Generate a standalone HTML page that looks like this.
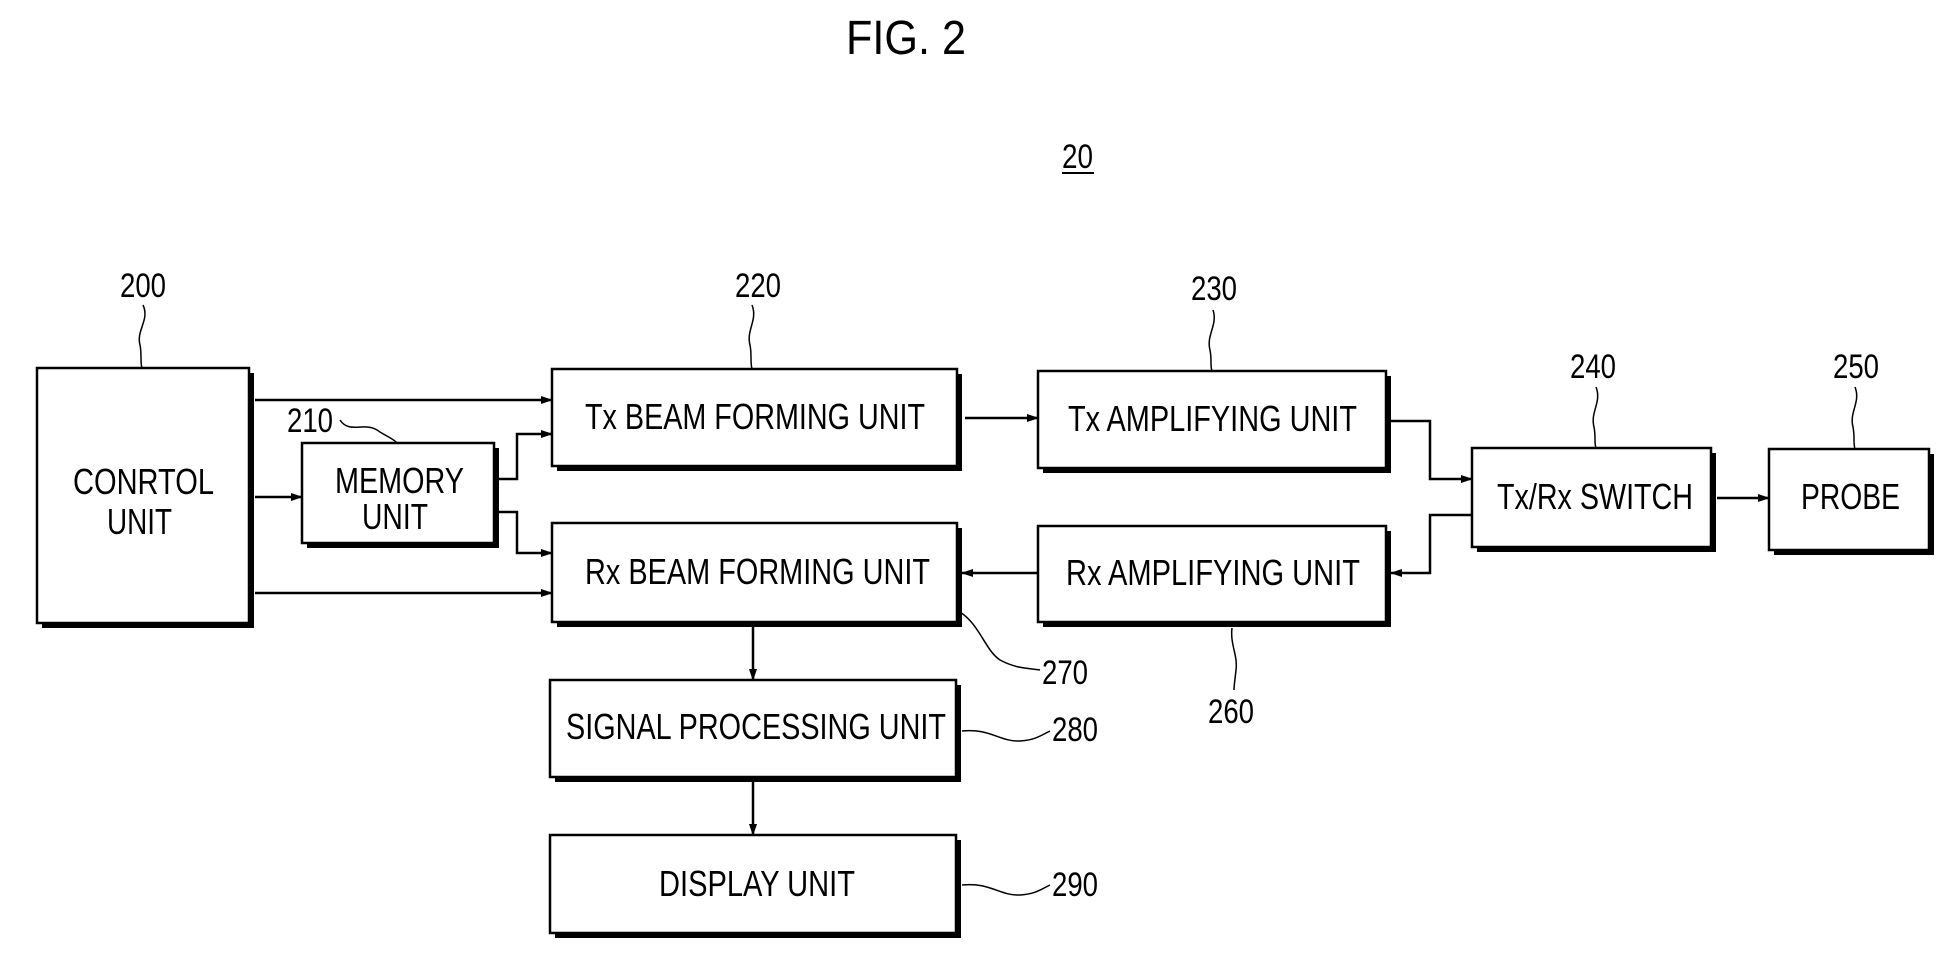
<!DOCTYPE html>
<html><head><meta charset="utf-8"><style>
html,body{margin:0;padding:0;background:#fff;}
svg{display:block;}
text{font-family:"Liberation Sans",sans-serif;fill:#000;}
</style></head><body>
<svg width="1949" height="957" viewBox="0 0 1949 957" xmlns="http://www.w3.org/2000/svg">
<defs>
<marker id="a" markerWidth="12" markerHeight="10" refX="11" refY="5" orient="auto" markerUnits="userSpaceOnUse">
<path d="M0,1 L12,5 L0,9 Z" fill="#000"/></marker>
</defs>
<text x="846" y="54" font-size="48" textLength="120" lengthAdjust="spacingAndGlyphs">FIG. 2</text>
<text x="1062" y="168" font-size="34" textLength="31" lengthAdjust="spacingAndGlyphs">20</text>
<line x1="1062" y1="173" x2="1094" y2="173" stroke="#000" stroke-width="2"/>

<g stroke="#000" stroke-width="2.5">
<g fill="#000" stroke="none">
<rect x="42" y="373" width="212" height="255"/>
<rect x="307" y="448" width="192" height="100"/>
<rect x="557" y="374" width="405" height="97"/>
<rect x="557" y="528" width="405" height="99"/>
<rect x="1043" y="376" width="348" height="97"/>
<rect x="1043" y="531" width="348" height="96"/>
<rect x="1477" y="453" width="239" height="99"/>
<rect x="1774" y="454" width="160" height="101"/>
<rect x="555" y="685" width="406" height="97"/>
<rect x="555" y="840" width="406" height="98"/>
</g>
<g fill="#fff">
<rect x="37" y="368" width="212" height="255"/>
<rect x="302" y="443" width="192" height="100"/>
<rect x="552" y="369" width="405" height="97"/>
<rect x="552" y="523" width="405" height="99"/>
<rect x="1038" y="371" width="348" height="97"/>
<rect x="1038" y="526" width="348" height="96"/>
<rect x="1472" y="448" width="239" height="99"/>
<rect x="1769" y="449" width="160" height="101"/>
<rect x="550" y="680" width="406" height="97"/>
<rect x="550" y="835" width="406" height="98"/>
</g>
<g fill="none" marker-end="url(#a)">
<polyline points="255,400 552,400"/>
<polyline points="255,497 302,497"/>
<polyline points="255,593 552,593"/>
<polyline points="499,479 517,479 517,434 552,434"/>
<polyline points="499,512 517,512 517,553 552,553"/>
<polyline points="965,418 1038,418"/>
<polyline points="1391,421 1430,421 1430,479 1472,479"/>
<polyline points="1472,515 1430,515 1430,573 1391,573"/>
<polyline points="1038,573 962,573"/>
<polyline points="1717,498 1769,498"/>
<polyline points="753,627 753,680"/>
<polyline points="753,782 753,835"/>
</g>
<g fill="none" stroke-width="1.5">
<path d="M143,305 C150,320 136,330 140,345 C142,355 140,362 142,368"/>
<path d="M752,305 C758,320 746,330 750,345 C752,355 750,362 752,369"/>
<path d="M1213,310 C1218,325 1206,335 1210,350 C1212,360 1210,366 1212,371"/>
<path d="M1596,387 C1602,402 1590,412 1594,427 C1596,437 1594,443 1596,448"/>
<path d="M1855,387 C1861,402 1849,412 1853,427 C1855,437 1853,443 1855,449"/>
<path d="M340,420 C350,435 365,420 380,432 C390,438 395,440 397,443"/>
<path d="M960,612 C980,625 985,650 1000,660 C1015,668 1025,668 1040,670"/>
<path d="M1232,628 C1230,645 1238,655 1236,670 C1235,680 1234,685 1234,690"/>
<path d="M962,731 C990,728 1000,742 1020,741 C1035,740 1040,736 1050,731"/>
<path d="M962,885 C990,882 1000,896 1020,895 C1035,894 1040,890 1050,885"/>
</g>
</g>

<g font-size="36">
<text x="73" y="494" textLength="141" lengthAdjust="spacingAndGlyphs">CONRTOL</text>
<text x="107" y="534" textLength="65" lengthAdjust="spacingAndGlyphs">UNIT</text>
<text x="335" y="493" textLength="129" lengthAdjust="spacingAndGlyphs">MEMORY</text>
<text x="362" y="529" textLength="66" lengthAdjust="spacingAndGlyphs">UNIT</text>
<text x="585" y="429" textLength="340" lengthAdjust="spacingAndGlyphs">Tx BEAM FORMING UNIT</text>
<text x="585" y="584" textLength="345" lengthAdjust="spacingAndGlyphs">Rx BEAM FORMING UNIT</text>
<text x="1068" y="431" textLength="289" lengthAdjust="spacingAndGlyphs">Tx AMPLIFYING UNIT</text>
<text x="1066" y="585" textLength="294" lengthAdjust="spacingAndGlyphs">Rx AMPLIFYING UNIT</text>
<text x="1497" y="509" textLength="196" lengthAdjust="spacingAndGlyphs">Tx/Rx SWITCH</text>
<text x="1801" y="509" textLength="99" lengthAdjust="spacingAndGlyphs">PROBE</text>
<text x="566" y="739" textLength="380" lengthAdjust="spacingAndGlyphs">SIGNAL PROCESSING UNIT</text>
<text x="659" y="896" textLength="196" lengthAdjust="spacingAndGlyphs">DISPLAY UNIT</text>
</g>
<g font-size="34">
<text x="120" y="297" textLength="46" lengthAdjust="spacingAndGlyphs">200</text>
<text x="735" y="297" textLength="46" lengthAdjust="spacingAndGlyphs">220</text>
<text x="1191" y="300" textLength="46" lengthAdjust="spacingAndGlyphs">230</text>
<text x="1570" y="378" textLength="46" lengthAdjust="spacingAndGlyphs">240</text>
<text x="1833" y="378" textLength="46" lengthAdjust="spacingAndGlyphs">250</text>
<text x="287" y="432" textLength="46" lengthAdjust="spacingAndGlyphs">210</text>
<text x="1042" y="684" textLength="46" lengthAdjust="spacingAndGlyphs">270</text>
<text x="1208" y="723" textLength="46" lengthAdjust="spacingAndGlyphs">260</text>
<text x="1052" y="741" textLength="46" lengthAdjust="spacingAndGlyphs">280</text>
<text x="1052" y="896" textLength="46" lengthAdjust="spacingAndGlyphs">290</text>
</g>
</svg>
</body></html>
